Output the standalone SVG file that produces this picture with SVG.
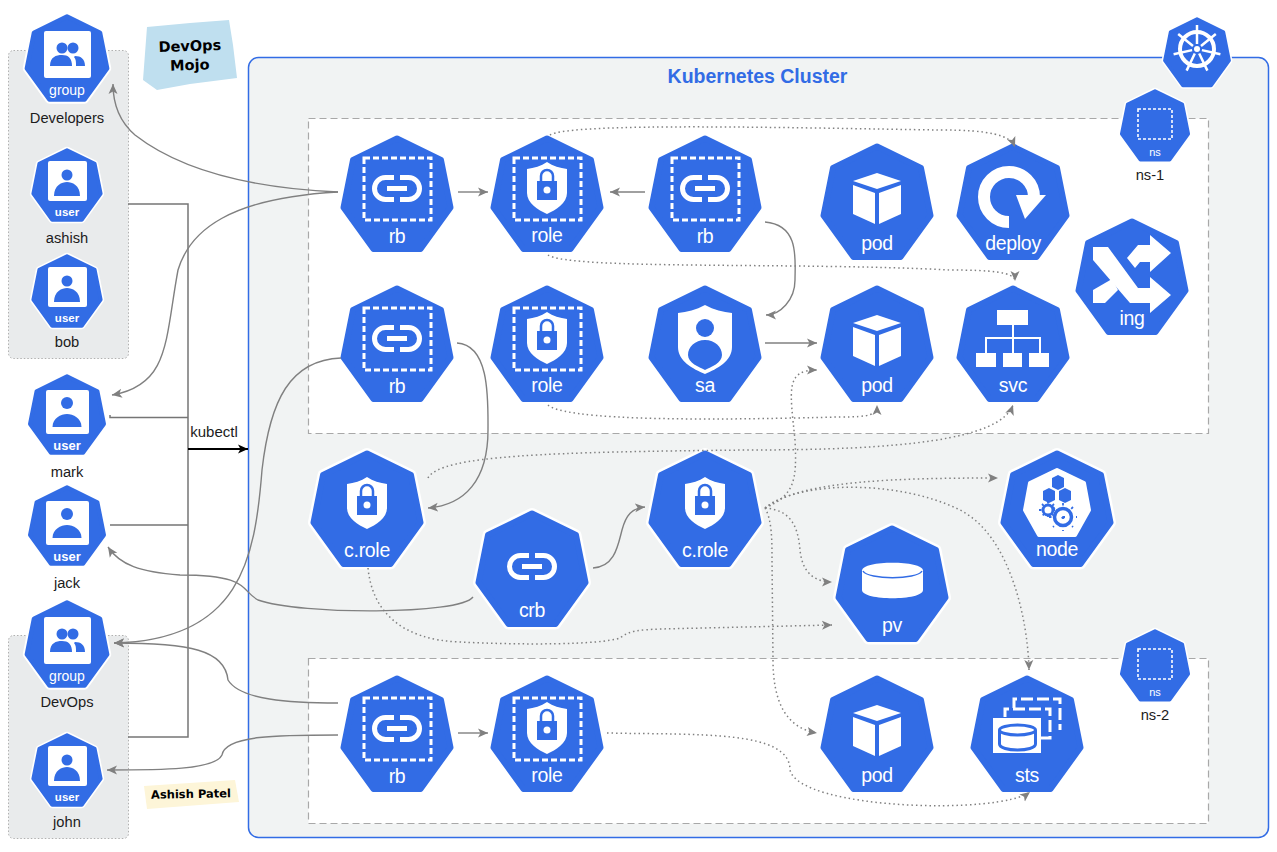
<svg xmlns="http://www.w3.org/2000/svg" width="1277" height="852" viewBox="0 0 1277 852">
<style>
text{font-family:"Liberation Sans",Arial,sans-serif}
.l{fill:#fff;font-size:19.500px;letter-spacing:-.3px;text-anchor:middle}
.u{fill:#fff;font-size:11.500px;font-weight:bold;text-anchor:middle}
.v{fill:#fff;font-size:13px;font-weight:bold;text-anchor:middle}
.g{fill:#fff;font-size:14px;text-anchor:middle}
.n{fill:#fff;font-size:11px;text-anchor:middle}
.c{fill:#1c1c1c;font-size:14.700px;text-anchor:middle}
.d{fill:none;stroke:#fff;stroke-width:3;stroke-dasharray:6 3}
.w{fill:#fff}
.b{fill:#326ce5}
.p{fill:none;stroke:#808080;stroke-width:1.4}
.q{fill:none;stroke:#808080;stroke-width:1.5;stroke-dasharray:1.5 3}
.a{marker-end:url(#ar)}
.s{fill:none;stroke:#757575;stroke-width:1.5}
.panel{fill:#e9ebec;stroke:#b0b0b0;stroke-dasharray:1.5 2}
.ns{fill:#fff;stroke:#a8a8a8;stroke-width:1.2;stroke-dasharray:7 4}
.h{font-family:"DejaVu Sans",sans-serif;font-weight:bold;fill:#000;text-anchor:middle}
</style>
<defs>
<marker id="ar" markerUnits="userSpaceOnUse" markerWidth="11" markerHeight="10" refX="10" refY="5" orient="auto"><path d="M0,0.5 L10,5 L0,9.500 L2.500,5 z" fill="#808080"/></marker>
<marker id="ak" markerUnits="userSpaceOnUse" markerWidth="11" markerHeight="10" refX="10" refY="5" orient="auto"><path d="M0,0.5 L10,5 L0,9.500 L2.500,5 z" fill="#000"/></marker>
<path id="hp" d="M0,3.500 L44,25 L53.500,72.500 L23.500,114 L-23.500,114 L-53.500,72.500 L-44,25 z"/>
<g id="hex"><use href="#hp" fill="#fff" stroke="#fff" stroke-width="11" stroke-linejoin="round"/><use href="#hp" fill="#326ce5" stroke="#326ce5" stroke-width="6" stroke-linejoin="round"/></g>
<rect id="sq" class="d" x="-33" y="23" width="67" height="62"/>
<g id="lnk" fill="none" stroke="#fff" stroke-width="5"><path d="M-3,42.500 H-11.500 A11,11 0 0 0 -11.500,64.500 H-3"/><path d="M3,42.500 H11.500 A11,11 0 0 1 11.500,64.500 H3"/><path d="M-10,53.500 H10"/></g>
<g id="shd"><path class="w" d="M0,27 C6,31 13,33 20,34 V58 C20,68 9,75 0,79 C-9,75 -20,68 -20,58 V34 C-13,33 -6,31 0,27 z"/><rect class="b" x="-10" y="46" width="20" height="19"/><path d="M-6,46 V41 A6,6 0 0 1 6,41 V46" fill="none" stroke="#326ce5" stroke-width="2.500"/><circle class="w" cx="0" cy="55" r="3.500"/></g>
<g id="cube"><path class="w" d="M0,30 L24,38 L0,46 L-24,38 z"/><path class="w" d="M-24,42 L-2,50 V81 L-24,71 z"/><path class="w" d="M24,42 L2,50 V81 L24,71 z"/></g>
<g id="usr"><rect class="w" x="-19" y="13" width="39" height="40" rx="2"/><circle class="b" cx="0" cy="27" r="5.500"/><path class="b" d="M-13,48 C-13,37 -5,34 0,34 C5,34 13,37 13,48 z"/></g>
<g id="usb"><rect class="w" x="-21" y="16" width="43" height="44" rx="2"/><circle class="b" cx="0" cy="29" r="6"/><path class="b" d="M-14.500,53 C-14.500,44 -6,40 0,40 C6,40 14.500,44 14.500,53 z"/></g>
<g id="grp"><rect class="w" x="-23" y="17" width="47" height="47" rx="2"/><circle class="b" cx="-5" cy="34" r="5.500"/><circle class="b" cx="6" cy="34" r="5.500"/><path class="b" d="M-17,52 C-17,43 -11,41 -5,41 C1,41 5,44 5,52 z"/><path class="b" d="M8,42 C14,42 18,45 18,52 H9 C9,48 9,45 7,43 z"/></g>
</defs>

<rect class="panel" x="8.500" y="50.500" width="120" height="308" rx="5"/>
<rect class="panel" x="8.500" y="635.500" width="120" height="203" rx="5"/>
<rect x="248.500" y="57.500" width="1020" height="780" rx="10" fill="#f1f3f3" stroke="#326ce5" stroke-width="1.500"/>
<rect class="ns" x="308.500" y="118.500" width="900" height="315"/>
<rect class="ns" x="308.500" y="658.500" width="900" height="165"/>
<path d="M147,27 L190,23 L229,20 L233,45 L237,78 L190,84 L157,90 L143,80 z" fill="#bfdfef"/>
<path d="M144,786 L235,780 L239,802 L147,809 z" fill="#fdf5d8"/>
<text class="h" x="190" y="51" font-size="14.500" transform="rotate(-2 190 51)">DevOps</text>
<text class="h" x="190" y="70" font-size="14.500" transform="rotate(-2 190 70)">Mojo</text>
<text class="h" x="191" y="798" font-size="11.500" transform="rotate(-1 191 798)">Ashish Patel</text>
<text x="757.500" y="83" font-size="19.500" font-weight="bold" fill="#326ce5" text-anchor="middle">Kubernetes Cluster</text>
<text x="214" y="437" font-size="15" fill="#1c1c1c" text-anchor="middle">kubectl</text>

<g id="developers" transform="translate(67,14)"><use href="#hex" transform="scale(.75)"/><use href="#grp"/><text class="g" y="81">group</text></g>
<text class="c" x="67" y="123">Developers</text>
<g id="ashish" transform="translate(67,148)"><use href="#hex" transform="scale(.63)"/><use href="#usr"/><text class="u" y="68">user</text></g>
<text class="c" x="67" y="243">ashish</text>
<g id="bob" transform="translate(67,254)"><use href="#hex" transform="scale(.63)"/><use href="#usr"/><text class="u" y="68">user</text></g>
<text class="c" x="67" y="347">bob</text>
<g id="mark" transform="translate(67,374)"><use href="#hex" transform="scale(.69)"/><use href="#usb"/><text class="v" y="76">user</text></g>
<text class="c" x="67" y="477">mark</text>
<g id="jack" transform="translate(67,485)"><use href="#hex" transform="scale(.69)"/><use href="#usb"/><text class="v" y="76">user</text></g>
<text class="c" x="67" y="588">jack</text>
<g id="devops" transform="translate(67,600)"><use href="#hex" transform="scale(.75)"/><use href="#grp"/><text class="g" y="81">group</text></g>
<text class="c" x="67" y="707">DevOps</text>
<g id="john" transform="translate(67,733)"><use href="#hex" transform="scale(.63)"/><use href="#usr"/><text class="u" y="68">user</text></g>
<text class="c" x="67" y="827">john</text>

<g id="k8s" transform="translate(1197,17)"><use href="#hex" transform="scale(.6)"/>
<g transform="translate(0,32)" fill="none" stroke="#fff"><circle r="17" stroke-width="4"/><circle r="3" fill="#fff" stroke="none"/>
<path stroke-width="2.500" d="M0,-24 V-5 M18.800,-15 L4,-3 M23.400,5.300 L4.900,1.100 M10.400,21.600 L2.200,4.500 M-10.400,21.600 L-2.200,4.500 M-23.400,5.300 L-4.900,1.100 M-18.800,-15 L-4,-3"/></g></g>
<g id="ns1" transform="translate(1155,89)"><use href="#hex" transform="scale(.62)"/><rect x="-17" y="20" width="34" height="30" fill="none" stroke="#fff" stroke-width="1.600" stroke-dasharray="3 2"/><text class="n" y="67">ns</text></g>
<text class="c" x="1150" y="180">ns-1</text>
<g id="ns2" transform="translate(1155,629)"><use href="#hex" transform="scale(.62)"/><rect x="-17" y="20" width="34" height="30" fill="none" stroke="#fff" stroke-width="1.600" stroke-dasharray="3 2"/><text class="n" y="67">ns</text></g>
<text class="c" x="1155" y="720">ns-2</text>

<g id="rb1" transform="translate(397,135)"><use href="#hex"/><use href="#sq"/><use href="#lnk"/><text class="l" y="108">rb</text></g>
<g id="role1" transform="translate(547,135)"><use href="#hex"/><use href="#sq"/><use href="#shd"/><text class="l" y="107">role</text></g>
<g id="rb2" transform="translate(705,135)"><use href="#hex"/><use href="#sq"/><use href="#lnk"/><text class="l" y="108">rb</text></g>
<g id="pod1" transform="translate(877,143)"><use href="#hex"/><use href="#cube"/><text class="l" y="107">pod</text></g>
<g id="deploy" transform="translate(1013,143)"><use href="#hex"/><path d="M-4,79 A25,25 0 1 1 21,54" fill="none" stroke="#fff" stroke-width="12"/><path class="w" d="M3,52 H33 L12,76 z"/><text class="l" y="107">deploy</text></g>
<g id="ing" transform="translate(1132,218)"><use href="#hex"/><path class="w" d="M-39,29 H-24 L6,70 H18 V59 L39,77 L18,95 V85 H-2 L-39,42 z"/><path class="w" d="M18,17 L39,35 L18,54 V44 H8 L3,50 L-5,40 L6,27 H18 z"/><path class="w" d="M-39,72 L-20,61 L-14,72 L-27,85 H-39 z"/><text class="l" y="107">ing</text></g>
<g id="rb3" transform="translate(397,285)"><use href="#hex"/><use href="#sq"/><use href="#lnk"/><text class="l" y="108">rb</text></g>
<g id="role2" transform="translate(547,285)"><use href="#hex"/><use href="#sq"/><use href="#shd"/><text class="l" y="107">role</text></g>
<g id="sa" transform="translate(705,285)"><use href="#hex"/><path class="w" d="M0,20 C9,25 18,27 27,28 V62 C27,76 12,84 0,89 C-12,84 -27,76 -27,62 V28 C-18,27 -9,25 0,20 z"/><circle class="b" cx="0" cy="43" r="9"/><path class="b" d="M0,55 C10,55 17,62 17,70 C17,78 6,82 0,85 C-6,82 -17,78 -17,70 C-17,62 -10,55 0,55 z"/><text class="l" y="107">sa</text></g>
<g id="pod2" transform="translate(877,285)"><use href="#hex"/><use href="#cube"/><text class="l" y="107">pod</text></g>
<g id="svc" transform="translate(1013,285)"><use href="#hex"/><rect class="w" x="-16" y="25" width="31" height="15"/><path d="M0,40 V68 M-27,68 V53 H27 V68" fill="none" stroke="#fff" stroke-width="2"/><rect class="w" x="-37" y="68" width="20" height="14"/><rect class="w" x="-10" y="68" width="19" height="14"/><rect class="w" x="16" y="68" width="20" height="14"/><text class="l" y="107">svc</text></g>
<g id="crole1" transform="translate(367,450)"><use href="#hex"/><use href="#shd"/><text class="l" y="107">c.role</text></g>
<g id="crb" transform="translate(532,510)"><use href="#hex"/><use href="#lnk" y="3"/><text class="l" y="107">crb</text></g>
<g id="crole2" transform="translate(705,450)"><use href="#hex"/><use href="#shd"/><text class="l" y="107">c.role</text></g>
<g id="node" transform="translate(1057,450)"><use href="#hex"/><path class="w" stroke="#fff" stroke-width="4" stroke-linejoin="round" d="M0,20 L27,33 L32,60 L18,85 H-18 L-32,60 L-27,33 z"/>
<path class="b" d="M1,25 L7,28 V37 L1,40 L-5,37 V28 z M-8,38 L-2,41 V50 L-8,53 L-14,50 V41 z M8,38 L14,41 V50 L8,53 L2,50 V41 z"/>
<circle cx="-9" cy="60" r="5" fill="none" stroke="#326ce5" stroke-width="3"/><circle cx="6" cy="67" r="8.500" fill="#fff" stroke="#326ce5" stroke-width="3.500"/>
<path d="M6,53 V81 M-8,67 H20 M-4,57 L16,77 M16,57 L-4,77 M-9,51 V69 M-18,60 H0 M-15,54 L-3,66 M-3,54 L-15,66" stroke="#326ce5" stroke-width="1.800" stroke-dasharray="2.500 11"/>
<text class="l" y="106">node</text></g>
<g id="pv" transform="translate(892,525)"><use href="#hex"/><path class="w" d="M-30,45.500 C-30,35 31,35 31,45.500 V65 C31,76 -30,76 -30,65 z"/><path d="M-29,46 C-24,55 25,55 30,46" fill="none" stroke="#326ce5" stroke-width="1.500"/><text class="l" y="107">pv</text></g>
<g id="rb4" transform="translate(397,675)"><use href="#hex"/><use href="#sq"/><use href="#lnk"/><text class="l" y="108">rb</text></g>
<g id="role3" transform="translate(547,675)"><use href="#hex"/><use href="#sq"/><use href="#shd"/><text class="l" y="107">role</text></g>
<g id="pod3" transform="translate(877,675)"><use href="#hex"/><use href="#cube"/><text class="l" y="107">pod</text></g>
<g id="sts" transform="translate(1027,675)"><use href="#hex"/><path d="M-13,33 V24 H33 V55 M-22,42 V34 H23 V63 H14" fill="none" stroke="#fff" stroke-width="3" stroke-dasharray="12 4"/><rect class="w" x="-34" y="43" width="48" height="35"/><ellipse cx="-9.500" cy="55" rx="18" ry="5" fill="none" stroke="#326ce5" stroke-width="3"/><path d="M-27.500,55 V69 C-27.500,77 8.500,77 8.500,69 V55" fill="none" stroke="#326ce5" stroke-width="3"/><text class="l" y="107">sts</text></g>

<g id="connectors">
<path class="s" d="M128,204 H188 V737 H128"/>
<path class="s" d="M110,415 V417.500 H188"/>
<path class="s" d="M110,525 H188"/>
<path d="M188,449 H248" fill="none" stroke="#000" stroke-width="1.800" marker-end="url(#ak)"/>
<path class="p a" d="M338,192 C250,188 180,170 135,135 C120,122 113,105 113,84"/>
<path class="p a" d="M338,192 C230,198 190,230 178,270 C165,340 170,385 112,395"/>
<path class="p a" d="M341,358 C290,360 270,400 262,470 C255,560 240,640 114,643"/>
<path class="p a" d="M338,703 C290,703 240,700 228,680 C225,650 190,643 114,643"/>
<path class="p a" d="M338,735 C280,735 225,735 222,755 C215,770 160,770 107,770"/>
<path class="p a" d="M473,597 C460,615 300,615 258,600 C240,590 250,575 180,575 C140,572 120,565 108,547"/>
<path class="p a" d="M458,192 H488"/>
<path class="p a" d="M645,192 H610"/>
<path class="p a" d="M765,222 C800,225 795,260 795,280 C795,300 780,315 766,315"/>
<path class="p a" d="M765,343 H817"/>
<path class="p a" d="M457,343 C490,345 488,400 488,430 C488,480 465,505 428,508"/>
<path class="p a" d="M593,568 C615,567 618,545 622,530 C626,515 632,508 645,507"/>
<path class="p a" d="M458,733 H488"/>
<path class="q a" d="M550,135 C570,122 800,128 940,130 C990,130 1010,135 1015,147"/>
<path class="q a" d="M548,255 C570,270 800,262 950,270 C990,270 1015,272 1015,281"/>
<path class="q a" d="M548,405 C570,425 790,418 840,417 C870,417 877,415 877,405"/>
<path class="q a" d="M428,478 C440,455 550,452 750,450 C900,450 1000,440 1013,405"/>
<path class="q a" d="M765,508 C795,495 797,480 795,440 C790,390 785,370 817,370"/>
<path class="q a" d="M765,508 C800,480 900,478 998,478"/>
<path class="q a" d="M765,508 C790,510 798,525 800,550 C802,570 812,582 832,582"/>
<path class="q a" d="M765,508 C772,520 772,540 772,560 L773,660 C773,700 785,728 817,733"/>
<path class="q a" d="M765,508 C800,480 900,480 960,510 C1010,535 1028,620 1029,670"/>
<path class="q a" d="M368,568 C372,610 400,640 460,642 C520,645 600,645 620,638 C630,630 640,630 660,629 L832,625"/>
<path class="q a" d="M607,733 C700,735 790,730 790,770 C800,810 1000,815 1030,792"/>
</g>
</svg>
